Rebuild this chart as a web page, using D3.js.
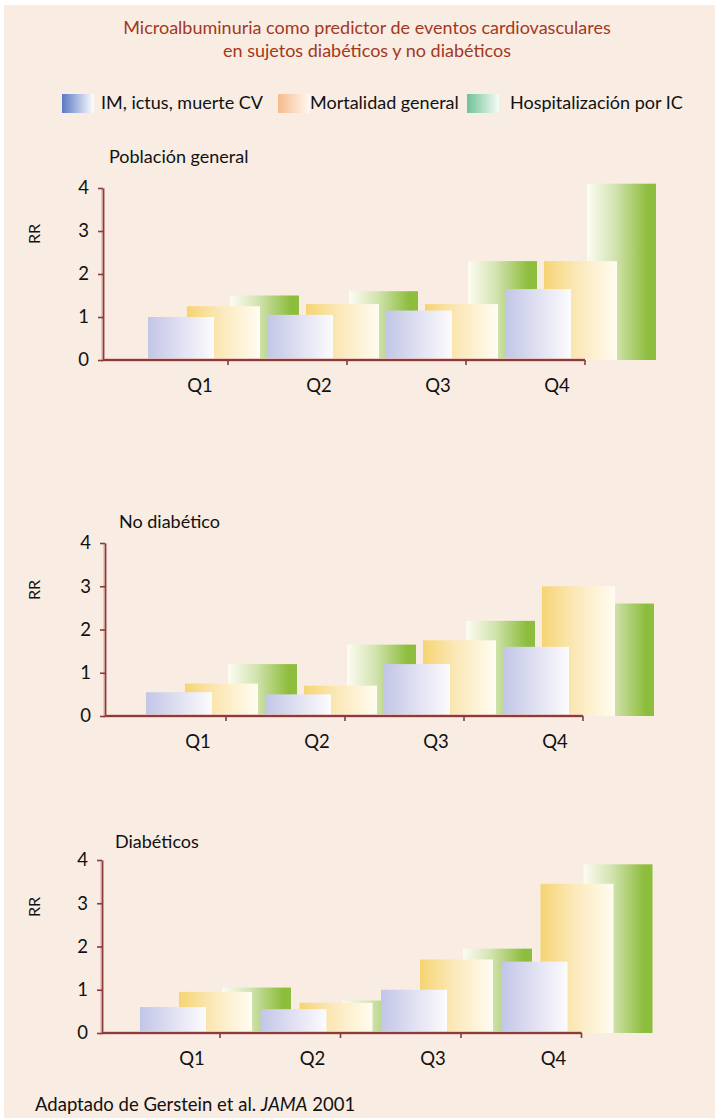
<!DOCTYPE html>
<html>
<head>
<meta charset="utf-8">
<script src="https://cdn.jsdelivr.net/npm/d3@7"></script>
<style>
  html, body { margin: 0; padding: 0; background: #ffffff; }
  svg { display: block; }
  text { font-family: Lato, "Noto Sans", sans-serif; }
</style>
</head>
<body>
<svg id="chart" width="715" height="1120"></svg>
<script>
// ---- data ----
const quartiles = ["Q1", "Q2", "Q3", "Q4"];
const seriesNames = ["IM, ictus, muerte CV", "Mortalidad general", "Hospitalización por IC"];
const yTickValues = [0, 1, 2, 3, 4];
const panelTitles = ["Población general", "No diabético", "Diabéticos"];

// relative risk by albuminuria quartile
const generalIM   = [1.0, 1.05, 1.15, 1.65];
const generalMort = [1.25, 1.3, 1.3, 2.3];
const generalHosp = [1.5, 1.6, 2.3, 4.1];

const noDiabIM   = [0.55, 0.5, 1.2, 1.6];
const noDiabMort = [0.75, 0.7, 1.75, 3.0];
const noDiabHosp = [1.2, 1.65, 2.2, 2.6];

const diabIM   = [0.6, 0.55, 1.0, 1.65];
const diabMort = [0.95, 0.7, 1.7, 3.45];
const diabHosp = [1.05, 0.75, 1.95, 3.9];

const panelValues = [
  [generalIM, generalMort, generalHosp],
  [noDiabIM, noDiabMort, noDiabHosp],
  [diabIM, diabMort, diabHosp]
];

// ---- layout ----
const W = 715, H = 1120;
const panelLayout = [
  { axisX: 103, firstBar: 148, step: 119, y0: 360, y4: 188, titleX: 109, titleY: 163 },
  { axisX: 105, firstBar: 146, step: 119, y0: 716, y4: 543, titleX: 119, titleY: 528 },
  { axisX: 102, firstBar: 140, step: 120.5, y0: 1033, y4: 860, titleX: 115, titleY: 848 }
];
const seriesOffset = [0, 39, 82];
const seriesWidth = [66, 73, 69];
const tickOffset = 80;
const labelOffset = 52;

const svg = d3.select("#chart");
const defs = svg.append("defs");

function hGradient(id, stops) {
  const g = defs.append("linearGradient").attr("id", id)
    .attr("x1", "0%").attr("x2", "100%").attr("y1", "0%").attr("y2", "0%");
  stops.forEach(([o, c]) => g.append("stop").attr("offset", o).attr("stop-color", c));
}
// bar fills
hGradient("barBlue",   [["0%", "#c2c6e7"], ["55%", "#e3e3f3"], ["100%", "#fcfbfd"]]);
hGradient("barYellow", [["0%", "#f6d473"], ["45%", "#fbe8b8"], ["100%", "#fffcf1"]]);
hGradient("barGreen",  [["0%", "#fdfcf2"], ["40%", "#d3e4b2"], ["88%", "#8dbd3c"], ["100%", "#8ebd40"]]);
// legend swatches
hGradient("legBlue",   [["0%", "#5a79c4"], ["100%", "#ffffff"]]);
hGradient("legOrange", [["0%", "#f6bb8c"], ["100%", "#fff8f1"]]);
hGradient("legGreen",  [["0%", "#6fc197"], ["100%", "#f6fbf6"]]);

const barFills = ["url(#barBlue)", "url(#barYellow)", "url(#barGreen)"];
const legendFills = ["url(#legBlue)", "url(#legOrange)", "url(#legGreen)"];

// background
svg.append("rect").attr("x", 0).attr("y", 0).attr("width", W).attr("height", H).attr("fill", "#ffffff");
svg.append("rect").attr("x", 4).attr("y", 5).attr("width", W - 4).attr("height", 1113).attr("fill", "#f8ece3");

// title
const title = svg.append("text").attr("text-anchor", "middle").attr("fill", "#a4381d")
  .attr("font-size", 18);
title.append("tspan").attr("x", 367).attr("y", 34).text("Microalbuminuria como predictor de eventos cardiovasculares");
title.append("tspan").attr("x", 367).attr("y", 57).text("en sujetos diabéticos y no diabéticos");

// legend
const legendX = [62, 278, 467];
const legendTextX = [101, 310, 510];
const legend = svg.append("g");
seriesNames.forEach((name, i) => {
  legend.append("rect").attr("x", legendX[i]).attr("y", 94).attr("width", 32).attr("height", 19)
    .attr("fill", legendFills[i]);
  legend.append("text").attr("x", legendTextX[i]).attr("y", 109)
    .attr("font-size", 18).attr("fill", "#111").text(name);
});

// panels
panelLayout.forEach((p, pi) => {
  const g = svg.append("g");
  const values = panelValues[pi];

  const x = d3.scaleBand().domain(quartiles)
    .range([p.firstBar, p.firstBar + p.step * quartiles.length]).paddingInner(0).paddingOuter(0);
  const y = d3.scaleLinear().domain([0, 4]).range([p.y0, p.y4]);

  // bars: back row (green) first, front row (blue) last, group by group
  const bars = [];
  quartiles.forEach((q, qi) => {
    [2, 1, 0].forEach(si => bars.push({ q, si, v: values[si][qi] }));
  });
  g.append("g").selectAll("rect").data(bars).join("rect")
    .attr("x", d => x(d.q) + seriesOffset[d.si])
    .attr("width", d => seriesWidth[d.si])
    .attr("y", d => y(d.v))
    .attr("height", d => y(0) - y(d.v))
    .attr("fill", d => barFills[d.si]);

  // y axis
  const lastTick = x(quartiles[quartiles.length - 1]) + tickOffset;
  const axisG = g.append("g");
  // soft halo under the axis lines
  axisG.append("path")
    .attr("d", `M${p.axisX},${y(4)}V${y(0)}H${lastTick}`)
    .attr("fill", "none").attr("stroke", "#e6b9b2").attr("stroke-width", 4).attr("opacity", 0.7);

  const yAxis = d3.axisLeft(y).tickValues(yTickValues).tickFormat(d3.format("d"))
    .tickSize(5).tickSizeOuter(0).tickPadding(9);
  const yg = axisG.append("g").attr("transform", `translate(${p.axisX},0)`).call(yAxis);
  yg.select(".domain").attr("stroke", "#8a3c3c").attr("stroke-width", 1.6);
  yg.selectAll(".tick line").attr("stroke", "#8a3c3c").attr("stroke-width", 1.6);
  yg.selectAll(".tick text").attr("font-size", 18.5).attr("fill", "#111")
    .attr("font-family", "Lato, 'Noto Sans', sans-serif");

  // x axis: baseline, ticks at group boundaries, quartile labels
  axisG.append("line").attr("x1", p.axisX).attr("x2", lastTick).attr("y1", y(0)).attr("y2", y(0))
    .attr("stroke", "#8a3c3c").attr("stroke-width", 1.8);
  axisG.selectAll(".xtick").data(quartiles).join("line").attr("class", "xtick")
    .attr("x1", d => x(d) + tickOffset).attr("x2", d => x(d) + tickOffset)
    .attr("y1", y(0)).attr("y2", y(0) + 5)
    .attr("stroke", "#8a3c3c").attr("stroke-width", 1.6);
  axisG.selectAll(".xlabel").data(quartiles).join("text").attr("class", "xlabel")
    .attr("x", d => x(d) + labelOffset).attr("y", y(0) + 32)
    .attr("text-anchor", "middle").attr("font-size", 18.5).attr("fill", "#111").text(d => d);

  // axis title
  g.append("text").attr("transform", `translate(40,${y(0) - 126}) rotate(-90)`)
    .attr("text-anchor", "middle").attr("font-size", 16).attr("fill", "#111").text("RR");

  // panel title
  g.append("text").attr("x", p.titleX).attr("y", p.titleY)
    .attr("font-size", 18).attr("fill", "#111").text(panelTitles[pi]);
});

// source note
const note = svg.append("text").attr("x", 35).attr("y", 1111).attr("font-size", 18.5).attr("fill", "#111");
note.append("tspan").text("Adaptado de Gerstein et al. ");
note.append("tspan").attr("font-style", "italic").text("JAMA");
note.append("tspan").text(" 2001");
</script>
</body>
</html>
